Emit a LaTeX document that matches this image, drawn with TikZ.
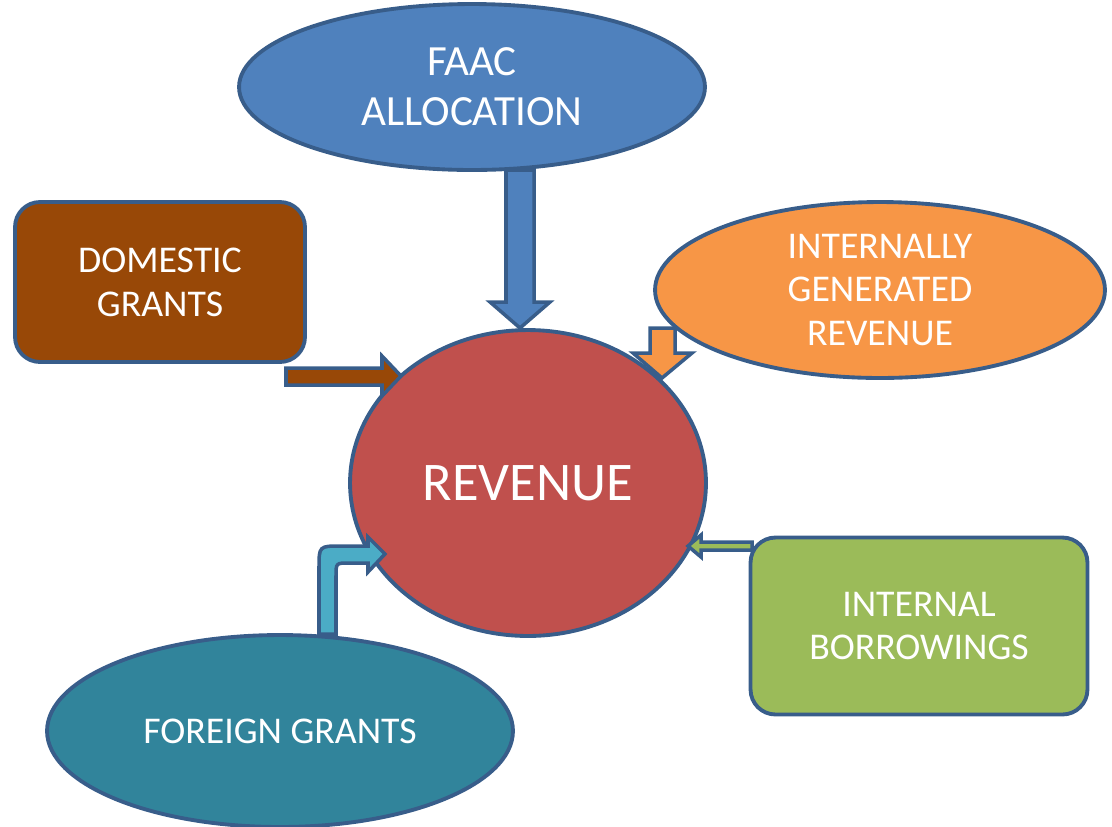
\documentclass[tikz,border=0pt]{standalone}
\usepackage{fontspec}
\setmainfont{Carlito}
\usepackage{tikz}
\usetikzlibrary{
  calc,
  positioning,
  shapes,
}
\definecolor{edgeblue}{RGB}{56, 93, 138}
\definecolor{faacblue}{RGB}{79, 129, 189}
\definecolor{grantbrown}{RGB}{152, 72, 7}
\definecolor{igrorange}{RGB}{247, 150, 70}
\definecolor{revred}{RGB}{192, 80, 77}
\definecolor{borrowgreen}{RGB}{155, 187, 89}
\definecolor{foreignteal}{RGB}{49, 132, 155}
\definecolor{foreignarrow}{RGB}{75, 172, 198}
\tikzstyle{source} = [
  draw=edgeblue,
  line width=2.2pt,
  text=white,
  align=center,
  inner sep=0pt,
  font=\fontsize{21.5}{25}\selectfont,
]
\tikzstyle{blockarrow} = [
  draw=edgeblue,
  line width=2pt,
  line join=miter,
]

\begin{document}
\begin{tikzpicture}[x=0.02cm,y=-0.02cm]
			\useasboundingbox (0,0) rectangle (1112,826);

			\node[source,ellipse,minimum width=9.32cm,minimum height=3.32cm,fill=faacblue,font=\fontsize{24.5}{28.5}\selectfont] (faac) at (472,87) {FAAC\\ALLOCATION};
			\node[source,rectangle,rounded corners=0.5cm,minimum width=5.8cm,minimum height=3.2cm,fill=grantbrown] (domestic) at (160,282) {DOMESTIC\\GRANTS};
			\node[source,ellipse,minimum width=9cm,minimum height=3.52cm,fill=igrorange] (igr) at (880,290) {INTERNALLY\\GENERATED\\REVENUE};
			\node[source,rectangle,rounded corners=0.5cm,minimum width=6.74cm,minimum height=3.54cm,fill=borrowgreen] (borrow) at (919,626) {INTERNAL\\BORROWINGS};
			\node[source,ellipse,minimum width=9.32cm,minimum height=3.84cm,fill=foreignteal] (foreign) at (280,731) {FOREIGN GRANTS};
			\node[source,ellipse,minimum width=7.12cm,minimum height=6.12cm,fill=revred,font=\fontsize{31}{36}\selectfont] (revenue) at (528,483) {REVENUE};

			% block arrows into revenue
			\draw[blockarrow,fill=faacblue] (506,170) -- (534,170) -- (534,302) -- (550,302) -- (520,328) -- (490,302) -- (506,302) -- cycle;
			\draw[blockarrow,fill=grantbrown] (286,368) -- (382,368) -- (382,356) -- (401,376) -- (382,396) -- (382,385) -- (286,385) -- cycle;
			\draw[blockarrow,fill=igrorange] (650,328) -- (675,328) -- (675,353) -- (692,353) -- (662,378) -- (633,353) -- (650,353) -- cycle;
			\draw[blockarrow,fill=borrowgreen] (752,542) -- (701,542) -- (701,535) -- (688,546) -- (701,557) -- (701,550) -- (752,550) -- cycle;
			\draw[blockarrow,fill=foreignarrow] (319,634) -- (319,568) .. controls (319,546) .. (341,546) -- (368,546) -- (368,537) -- (385,554) -- (368,572) -- (368,563) -- (349,563) .. controls (336,563) .. (336,576) -- (336,634) -- cycle;
		\end{tikzpicture}
\end{document}
